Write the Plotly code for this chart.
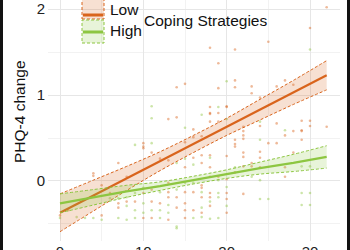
import plotly.graph_objects as go

# ---- data ----
low_x = [32,30,25,18,21,19,14,15,21,19,21,23,27,26,28,23,24,18,20,18,14,13,18,18,19,16,17,16,15,10,10,10,
         20,19,22,22,22,22,21,21,24,26,28,29,30,32,27,29,26,25,21,30,29,29,17,18,20,17,22,22,24,24,28,21,
         18,22,23,23,24,27,27,18,19,20,17,17,17,18,18,18,20,20,20,22,17,4,4,8,7,11,12,13,16,15,5,6,7,7,8,9,
         10,10,11,11,11,12,13,13,13,13,14,14,15,15,15,15,16,16,1,5,0]
low_y = [2.02,1.78,1.62,1.55,1.53,1.37,1.09,1.13,1.17,1.08,1.09,1.10,1.17,1.10,1.12,1.02,0.97,0.86,0.86,0.79,
         0.74,0.72,0.78,0.69,0.79,0.60,0.52,0.51,0.45,0.40,0.38,0.44,0.87,0.69,0.63,0.58,0.53,0.49,0.48,0.43,
         0.64,0.67,0.58,0.58,0.64,0.63,0.53,0.48,0.44,0.44,0.40,0.70,0.70,0.59,0.30,0.30,0.29,0.21,0.33,0.28,
         0.34,0.27,0.33,0.10,0.16,0.17,0.21,0.17,0.16,0.16,0.05,0.05,0.05,0.02,-0.05,-0.08,-0.19,-0.14,-0.19,
         -0.29,-0.14,-0.21,-0.37,-0.15,-0.37,0.09,0.06,0.05,0.21,0.33,0.26,0.24,0.27,0.16,-0.05,-0.14,-0.26,
         -0.31,-0.24,-0.24,-0.14,-0.43,-0.10,-0.24,-0.43,-0.26,-0.02,-0.13,-0.19,-0.45,-0.19,-0.31,-0.13,-0.26,
         -0.34,-0.43,-0.13,-0.34,-0.34,-0.40,-0.40]
high_x = [30,20,17,11,11,15,9,11,19,20,24,27,24,18,21,29,30,23,24,19,14,15,16,17,18,19,19,20,20,24,25,29,29,
          30,30,17,17,18,19,6,7,8,8,9,9,10,10,10,11,12,12,12,13,13,14,14,15,16,16,0,3,4,5,7,8,9,2,14]
high_y = [1.53,1.16,0.77,0.87,0.73,0.62,0.42,0.44,0.86,0.72,0.69,0.59,0.48,0.27,0.16,0.17,0.17,0.05,0.01,0.01,
          0.21,0.26,0.19,-0.13,-0.24,-0.14,-0.19,-0.07,-0.29,-0.21,-0.21,-0.14,-0.28,-0.14,-0.28,-0.31,-0.42,
          -0.44,-0.43,-0.20,-0.20,-0.19,-0.29,-0.14,-0.34,-0.08,-0.26,-0.37,-0.34,-0.13,-0.34,-0.43,-0.28,-0.37,
          -0.10,-0.55,-0.02,-0.02,-0.43,-0.43,-0.43,-0.43,-0.45,-0.43,-0.45,-0.43,-0.42,-0.53]

fit_x = [0, 4, 8, 12, 16, 20, 24, 28, 32]
low_fit = [-0.37, -0.17, 0.03, 0.23, 0.43, 0.63, 0.83, 1.03, 1.23]
low_upper = [-0.15, 0.01, 0.17, 0.34, 0.53, 0.73, 0.95, 1.17, 1.40]
low_lower = [-0.59, -0.35, -0.11, 0.12, 0.33, 0.53, 0.71, 0.89, 1.06]
high_fit = [-0.26, -0.19, -0.12, -0.06, 0.01, 0.08, 0.15, 0.21, 0.28]
high_upper = [-0.15, -0.10, -0.05, -0.01, 0.055, 0.13, 0.22, 0.31, 0.41]
high_lower = [-0.37, -0.28, -0.19, -0.11, -0.035, 0.03, 0.08, 0.11, 0.15]

x_ticks = [0, 10, 20, 30]
y_ticks = [0, 1, 2]
legend_labels = ["Low", "High"]
legend_title = "Coping Strategies"
y_title = "PHQ-4 change"

# ---- styles ----
ORANGE = "#D9641C"
GREEN = "#8DC641"
ORANGE_FILL = "rgba(217,100,28,0.20)"
GREEN_FILL = "rgba(141,198,65,0.20)"
FONT = "Liberation Sans, Arial, sans-serif"

W, H = 350, 250
ML, MR, MT, MB = 48, 10, 0, 9
PW, PH = W - ML - MR, H - MT - MB


def px(p):
    return (p - ML) / PW


def py(p):
    return (PH - (p - MT)) / PH


fig = go.Figure()

fig.add_trace(go.Scatter(x=low_x, y=low_y, mode="markers",
                         marker=dict(color=ORANGE, size=2.6, opacity=0.45), showlegend=False))
fig.add_trace(go.Scatter(x=high_x, y=high_y, mode="markers",
                         marker=dict(color=GREEN, size=2.6, opacity=0.45), showlegend=False))

for lower, upper, fit, col, fill in [(low_lower, low_upper, low_fit, ORANGE, ORANGE_FILL),
                                     (high_lower, high_upper, high_fit, GREEN, GREEN_FILL)]:
    fig.add_trace(go.Scatter(x=fit_x, y=lower, mode="lines",
                             line=dict(color=col, width=1, dash="3px,2px", shape="spline"),
                             showlegend=False))
    fig.add_trace(go.Scatter(x=fit_x, y=upper, mode="lines", fill="tonexty", fillcolor=fill,
                             line=dict(color=col, width=1, dash="3px,2px", shape="spline"),
                             showlegend=False))
    fig.add_trace(go.Scatter(x=fit_x, y=fit, mode="lines",
                             line=dict(color=col, width=2.2), showlegend=False))

shapes = []
# black frame strips on left/right edges
shapes.append(dict(type="rect", xref="paper", yref="paper", x0=px(0), x1=px(3), y0=py(H + 5), y1=py(-5),
                   fillcolor="#111111", line=dict(width=0), layer="above"))
shapes.append(dict(type="rect", xref="paper", yref="paper", x0=px(347), x1=px(W + 2), y0=py(H + 5), y1=py(-5),
                   fillcolor="#111111", line=dict(width=0), layer="above"))

# custom legend keys
keys = [(-5, 19, 15, ORANGE, ORANGE_FILL), (20, 43, 32, GREEN, GREEN_FILL)]
for top, bot, mid, col, fill in keys:
    shapes.append(dict(type="rect", xref="paper", yref="paper", x0=px(82), x1=px(104), y0=py(bot), y1=py(top),
                       fillcolor=fill, line=dict(color=col, width=1, dash="3px,2px"), layer="above"))
    shapes.append(dict(type="line", xref="paper", yref="paper", x0=px(83), x1=px(103), y0=py(mid), y1=py(mid),
                       line=dict(color=col, width=3), layer="above"))

annotations = []
for lab, yc in zip(legend_labels, [10, 31]):
    annotations.append(dict(text=lab, xref="paper", yref="paper", x=px(108), y=py(yc), xanchor="left",
                            yanchor="middle", showarrow=False, font=dict(family=FONT, size=15.5, color="#111")))
annotations.append(dict(text=legend_title, xref="paper", yref="paper", x=px(142), y=py(20), xanchor="left",
                        yanchor="middle", showarrow=False, font=dict(family=FONT, size=15.5, color="#111")))
annotations.append(dict(text=y_title, xref="paper", yref="paper", x=px(19), y=py(112), xanchor="center",
                        yanchor="middle", textangle=-90, showarrow=False,
                        font=dict(family=FONT, size=15.5, color="#111")))

fig.update_layout(
    width=W, height=H, margin=dict(l=ML, r=MR, t=MT, b=MB, autoexpand=False),
    paper_bgcolor="white", plot_bgcolor="white",
    shapes=shapes, annotations=annotations, showlegend=False,
    font=dict(family=FONT, size=14, color="#222"),
)
fig.update_xaxes(range=[-1.44, 33.6], tickvals=x_ticks, showline=False, zeroline=False, automargin=False,
                 gridcolor="#E6E6E6", gridwidth=1, ticks="", tickfont=dict(size=15, color="#222"),
                 minor=dict(dtick=5, tick0=5, showgrid=True, gridcolor="#F2F2F2", gridwidth=0.8))
fig.update_yaxes(range=[-0.698, 2.105], tickvals=y_ticks, showline=False, zeroline=False, automargin=False,
                 gridcolor="#E6E6E6", gridwidth=1, ticks="", tickfont=dict(size=15, color="#222"),
                 ticklabelstandoff=2,
                 minor=dict(dtick=0.5, tick0=0.5, showgrid=True, gridcolor="#F2F2F2", gridwidth=0.8))

fig.write_html("out.html")
